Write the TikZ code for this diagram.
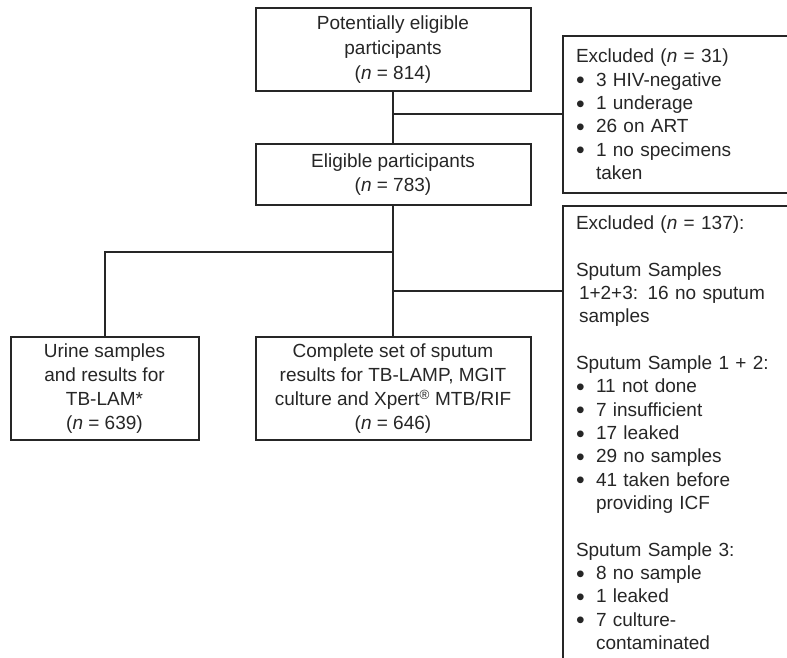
\documentclass[tikz,border=0pt]{standalone}
\usepackage{fontspec}
\setmainfont{Liberation Sans}
\usetikzlibrary{positioning}
\definecolor{ink}{HTML}{262626}

\newcommand{\nval}[1]{(\textit{n} = #1)}
\newcommand{\bitem}[1]{\makebox[20pt][l]{\raisebox{-2.5pt}{\scalebox{1.3}{\textbullet}}}#1}
\newcommand{\bcont}{\hspace*{20pt}}

\begin{document}
\begin{tikzpicture}[
    x=1pt, y=-1pt,
    node distance=51pt,
    every node/.style={font=\fontsize{19}{24}\selectfont, text=ink},
    stage/.style={rectangle, draw=ink, line width=2pt, align=center,
                  minimum width=275pt, inner sep=4pt},
    excl/.style={rectangle, draw=ink, line width=2pt, align=left, anchor=north west,
                 text width=232pt, inner xsep=13pt,
                 font=\fontsize{19}{23.4}\selectfont},
    link/.style={draw=ink, line width=2pt}
  ]
    \path[use as bounding box, clip] (0,0) rectangle (787,658);

    \node[stage, minimum height=83pt, font=\fontsize{19}{25}\selectfont] (potential) at (393,49.5) {Potentially eligible\\participants\\\nval{814}};
    \node[stage, minimum height=61pt, below=51pt of potential] (eligible) {Eligible participants\\\nval{783}};
    \node[stage, minimum height=103pt, below=130pt of eligible] (sputum) {Complete set of sputum\\results for TB-LAMP, MGIT\\culture and Xpert\textsuperscript{\textregistered} MTB/RIF\\\nval{646}};
    \node[stage, minimum height=103pt, minimum width=188pt, left=55pt of sputum] (urine) {Urine samples\\and results for\\TB-LAM*\\\nval{639}};

    \node[excl, minimum height=157pt] (excl1) at (562,35) {Excluded \nval{31}\\
      \bitem{3 HIV-negative}\\
      \bitem{1 underage}\\
      \bitem{26 on ART}\\
      \bitem{1 no specimens}\\
      \bcont taken};
    \node[excl, inner ysep=10pt] (excl2) at (562,205) {Excluded \nval{137}:\\[23pt]
      Sputum Samples\\
      \hspace*{3pt}1+2+3: 16 no sputum\\
      \hspace*{3pt}samples\\[23pt]
      Sputum Sample 1 + 2:\\
      \bitem{11 not done}\\
      \bitem{7 insufficient}\\
      \bitem{17 leaked}\\
      \bitem{29 no samples}\\
      \bitem{41 taken before}\\
      \bcont providing ICF\\[23pt]
      Sputum Sample 3:\\
      \bitem{8 no sample}\\
      \bitem{1 leaked}\\
      \bitem{7 culture-}\\
      \bcont contaminated};

    \coordinate[below=46pt of eligible.south] (fork);
    \coordinate[below=85pt of eligible.south] (split);

    \draw[link] (potential) -- (eligible);
    \draw[link] (excl1.west) -- (excl1.west -| potential.south);
    \draw[link] (eligible) -- (sputum);
    \draw[link] (fork) -| (urine.north);
    \draw[link] (split) -- (split -| excl2.west);
  \end{tikzpicture}
\end{document}
